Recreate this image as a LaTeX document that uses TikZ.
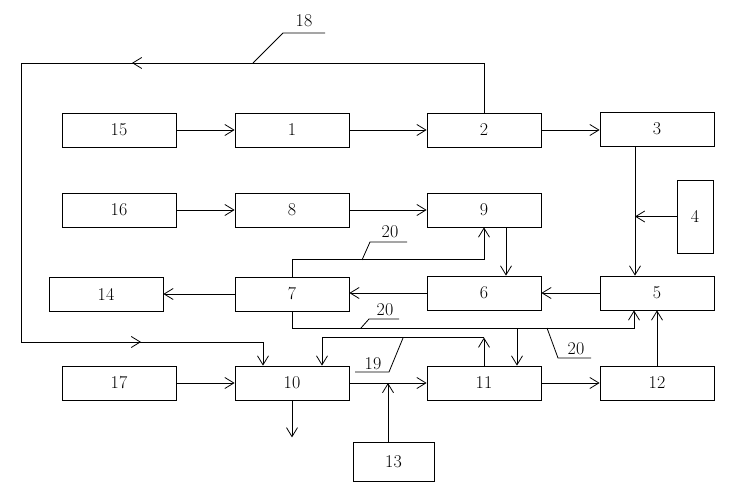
\documentclass[tikz,border=0pt]{standalone}
\usetikzlibrary{arrows.meta}
\begin{document}
\begin{tikzpicture}[x=1pt,y=-1pt,line width=0.8pt,
  blk/.style={draw,minimum width=114pt,minimum height=34pt,inner sep=0pt,font=\fontsize{18}{20}\selectfont},
  lbl/.style={inner sep=0pt,font=\fontsize{18}{20}\selectfont},
  arr/.style={-{Straight Barb[length=9pt,width=11pt]}}]
  \useasboundingbox (0,0) rectangle (739,486);

  % blocks, row by row
  \node[blk] (15) at (119,130) {15};
  \node[blk] (1) at (292,130) {1};
  \node[blk] (2) at (484,130) {2};
  \node[blk] (3) at (657,129) {3};
  \node[blk] (16) at (119,210) {16};
  \node[blk] (8) at (292,210) {8};
  \node[blk] (9) at (484,210) {9};
  \node[blk,minimum width=36pt,minimum height=73pt] (4) at (695,216.5) {4};
  \node[blk] (14) at (106,294) {14};
  \node[blk] (7) at (292,294) {7};
  \node[blk] (6) at (484,293) {6};
  \node[blk] (5) at (657,293) {5};
  \node[blk] (17) at (119,383) {17};
  \node[blk] (10) at (292,383) {10};
  \node[blk] (11) at (484,383) {11};
  \node[blk] (12) at (657,383) {12};
  \node[blk,minimum width=81pt,minimum height=39pt] (13) at (393.5,461.5) {13};

  % straight links
  \draw[arr] (15) -- (1);
  \draw[arr] (1) -- (2);
  \draw[arr] (2.east) -- (2.east -| 3.west);
  \draw[arr] (16) -- (8);
  \draw[arr] (8) -- (9);
  \draw[arr] (5) -- (6);
  \draw[arr] (6.west) -- (6.west -| 7.east);
  \draw[arr] (7) -- (14);
  \draw[arr] (17) -- (10);
  \draw[arr] (10) -- (11);
  \draw[arr] (11) -- (12);
  \draw[arr] (12) -- (5);
  \draw[arr] (10.south) -- ++(0,37);

  % 3 down to 5, 4 into that line
  \coordinate (c3) at ([xshift=-22pt]3.south);
  \draw[arr] (c3) -- (c3 |- 5.north);
  \draw[arr] (4.west) -- (c3 |- 4.west);
  % 9 down to 6
  \coordinate (c9) at ([xshift=22pt]9.south);
  \draw[arr] (c9) -- (c9 |- 6.north);

  % feedback loop 18
  \coordinate (lt) at (21,63);
  \coordinate (lb) at (21,342);
  \draw[arr] (2.north) |- (lt) -- (lb) -| ([xshift=-29pt]10.north);
  \draw[arr] (150,63) -- (132,63);
  \draw[arr] (125,342) -- (141,342);
  \draw (253,63) -- (283,33) -- (325,33);
  \node[lbl] (l18) at (304,21) {18};

  % lines 20
  \draw[arr] (7.north) -- ++(0,-17) -| (9.south);
  \path (7.south) ++(0,17) coordinate (j20);
  \draw[arr] (7.south) -- (j20) -| ([xshift=-23pt]5.south);
  \coordinate (c11) at ([xshift=33pt]11.north);
  \draw[arr] (c11 |- j20) -- (c11);
  \draw (362,260) -- (370,242) -- (407,242);
  \node[lbl] (l20a) at (390,232) {20};
  \draw (361,328) -- (369,319) -- (399,319);
  \node[lbl] (l20b) at (385,310) {20};
  \draw (547,328) -- (558,358) -- (591,358);
  \node[lbl] (l20c) at (576,349) {20};

  % line 19 between 11 and 10
  \path (11.north) ++(0,-28) coordinate (k19);
  \draw[arr] (11.north) -- (k19);
  \draw[arr] (k19) -| ([xshift=30pt]10.north);
  \draw (355,372) -- (389,372) -- (403,338);
  \node[lbl] (l19) at (373,364) {19};

  % 13 up into the 10-11 line
  \coordinate (c13) at ([xshift=-5.5pt]13.north);
  \draw[arr] (c13) -- (c13 |- 10.east);
\end{tikzpicture}
\end{document}
